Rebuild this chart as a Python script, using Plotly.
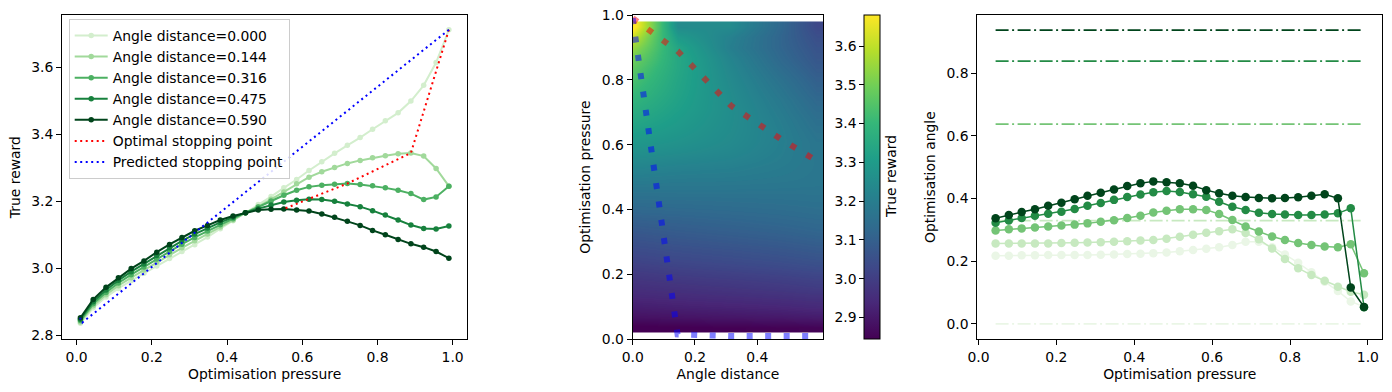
import numpy as np
import plotly.graph_objects as go

# ---------------- data ----------------
pressure = [0.010, 0.044, 0.078, 0.111, 0.145, 0.179, 0.213, 0.247, 0.280, 0.314,
            0.348, 0.382, 0.416, 0.449, 0.483, 0.517, 0.551, 0.585, 0.618, 0.652,
            0.686, 0.720, 0.754, 0.787, 0.821, 0.855, 0.889, 0.923, 0.956, 0.990]

angle_dist = [0.000, 0.144, 0.316, 0.475, 0.590]
legend_labels = ["Angle distance=0.000", "Angle distance=0.144", "Angle distance=0.316",
                 "Angle distance=0.475", "Angle distance=0.590"]

reward_000 = [2.836, 2.882, 2.914, 2.940, 2.963, 2.985, 3.007, 3.029, 3.050, 3.070,
              3.093, 3.118, 3.142, 3.165, 3.190, 3.214, 3.240, 3.265, 3.292, 3.318,
              3.343, 3.367, 3.390, 3.415, 3.440, 3.464, 3.499, 3.546, 3.614, 3.712]
reward_144 = [2.840, 2.888, 2.921, 2.948, 2.972, 2.995, 3.018, 3.040, 3.061, 3.082,
              3.102, 3.123, 3.144, 3.166, 3.184, 3.206, 3.228, 3.252, 3.272, 3.288,
              3.301, 3.313, 3.322, 3.330, 3.336, 3.342, 3.344, 3.335, 3.298, 3.245]
reward_316 = [2.844, 2.894, 2.928, 2.956, 2.981, 3.004, 3.028, 3.050, 3.072, 3.092,
              3.111, 3.130, 3.148, 3.166, 3.183, 3.201, 3.218, 3.233, 3.243, 3.248,
              3.251, 3.253, 3.250, 3.246, 3.240, 3.233, 3.223, 3.205, 3.213, 3.245]
reward_475 = [2.848, 2.900, 2.935, 2.964, 2.990, 3.013, 3.038, 3.061, 3.082, 3.102,
              3.120, 3.137, 3.152, 3.166, 3.178, 3.189, 3.198, 3.203, 3.206, 3.205,
              3.200, 3.192, 3.184, 3.172, 3.159, 3.144, 3.129, 3.119, 3.117, 3.126]
reward_590 = [2.852, 2.907, 2.943, 2.972, 2.999, 3.022, 3.048, 3.071, 3.092, 3.112,
              3.128, 3.144, 3.156, 3.166, 3.174, 3.176, 3.177, 3.174, 3.171, 3.162,
              3.152, 3.140, 3.128, 3.113, 3.100, 3.086, 3.073, 3.063, 3.050, 3.030]

# stopping points (one per angle distance)
opt_pressure = [0.990, 0.889, 0.720, 0.618, 0.551]
opt_reward = [3.712, 3.344, 3.253, 3.206, 3.177]
pred_pressure = [0.990, 0.015, 0.010, 0.010, 0.010]
pred_reward = [3.712, 2.838, 2.844, 2.848, 2.852]

# panel 3: optimisation angle vs pressure (pressure[1:])
angle_000 = [0.218, 0.218, 0.219, 0.219, 0.220, 0.220, 0.220, 0.220, 0.221, 0.222,
             0.223, 0.224, 0.226, 0.228, 0.232, 0.236, 0.240, 0.245, 0.252, 0.262,
             0.262, 0.245, 0.222, 0.195, 0.165, 0.135, 0.105, 0.072, 0.055]
angle_144 = [0.257, 0.257, 0.257, 0.257, 0.257, 0.258, 0.259, 0.260, 0.261, 0.262,
             0.264, 0.266, 0.268, 0.272, 0.278, 0.285, 0.291, 0.296, 0.302, 0.290,
             0.270, 0.241, 0.207, 0.178, 0.156, 0.138, 0.119, 0.103, 0.093]
angle_316 = [0.298, 0.302, 0.305, 0.308, 0.311, 0.314, 0.317, 0.321, 0.326, 0.331,
             0.338, 0.345, 0.356, 0.361, 0.366, 0.366, 0.364, 0.351, 0.332, 0.311,
             0.295, 0.279, 0.268, 0.258, 0.252, 0.247, 0.245, 0.254, 0.162]
angle_475 = [0.323, 0.330, 0.338, 0.345, 0.352, 0.358, 0.367, 0.377, 0.386, 0.396,
             0.405, 0.413, 0.420, 0.424, 0.421, 0.414, 0.406, 0.390, 0.374, 0.364,
             0.355, 0.351, 0.349, 0.348, 0.348, 0.349, 0.353, 0.369, 0.053]
angle_590 = [0.337, 0.348, 0.357, 0.366, 0.377, 0.387, 0.398, 0.409, 0.419, 0.429,
             0.440, 0.449, 0.455, 0.452, 0.449, 0.441, 0.427, 0.417, 0.409, 0.405,
             0.402, 0.401, 0.402, 0.404, 0.409, 0.414, 0.401, 0.116, 0.054]
ref_angle = [0.000, 0.330, 0.638, 0.839, 0.938]

cb_ticks = [2.9, 3.0, 3.1, 3.2, 3.3, 3.4, 3.5, 3.6]
cb_range = [2.844, 3.680]

# ---------------- styling ----------------
W, H = 1392, 392
FONT = "DejaVu Sans"
FS = 13.9
c_left = ["#d3eecd", "#a1d99b", "#4cb062", "#17813d", "#00441b"]
c_right = ["#eaf6e6", "#c7e9c0", "#74c476", "#238b45", "#00441b"]

rewards = [reward_000, reward_144, reward_316, reward_475, reward_590]
angles = [angle_000, angle_144, angle_316, angle_475, angle_590]
p3 = pressure[1:]


def fx(px):
    return px / W


def fy(py):
    return 1 - py / H


fig = go.Figure()

# panel 1
for i in range(5):
    fig.add_trace(go.Scatter(
        x=pressure, y=rewards[i], mode="lines+markers", name=legend_labels[i],
        line=dict(color=c_left[i], width=2), marker=dict(color=c_left[i], size=5.5),
        xaxis="x", yaxis="y", legend="legend"))
fig.add_trace(go.Scatter(
    x=opt_pressure, y=opt_reward, mode="lines", name="Optimal stopping point",
    line=dict(color="red", width=2, dash="2px,3.5px"), xaxis="x", yaxis="y"))
fig.add_trace(go.Scatter(
    x=pred_pressure, y=pred_reward, mode="lines", name="Predicted stopping point",
    line=dict(color="blue", width=2, dash="2px,3.5px"), xaxis="x", yaxis="y"))

# panel 2 heatmap
z = [[rewards[j][k] for j in range(5)] for k in range(len(pressure))]
heat_y = np.linspace(0.02, 0.98, len(pressure) + 1)
fig.add_trace(go.Heatmap(
    x=angle_dist, y=heat_y, z=z, colorscale="Viridis", zmin=cb_range[0], zmax=cb_range[1],
    zsmooth="best", xaxis="x2", yaxis="y2", showscale=True, hoverinfo="skip",
    colorbar=dict(x=fx(864.3), xanchor="left", xref="paper", y=fy(15), yanchor="top",
                  len=(339.3 - 15) / H, lenmode="fraction", thickness=16.4,
                  thicknessmode="pixels", outlinewidth=1, outlinecolor="black",
                  showticklabels=False, ticks="", xpad=0, ypad=0)))
fig.add_trace(go.Scatter(
    x=angle_dist, y=opt_pressure, mode="lines", showlegend=False, opacity=0.5,
    line=dict(color="red", width=6, dash="6px,12.5px"), xaxis="x2", yaxis="y2"))
fig.add_trace(go.Scatter(
    x=angle_dist, y=pred_pressure, mode="lines", showlegend=False, opacity=0.5,
    line=dict(color="blue", width=6, dash="6px,12.5px"), xaxis="x2", yaxis="y2"))
# dummy trace for colorbar tick axis
fig.add_trace(go.Scatter(x=[None], y=[None], xaxis="x2", yaxis="y4", showlegend=False,
                         hoverinfo="skip"))

# panel 3
for i in range(5):
    fig.add_trace(go.Scatter(
        x=p3, y=angles[i], mode="lines+markers", showlegend=False,
        line=dict(color=c_right[i], width=1.5), marker=dict(color=c_right[i], size=8.5),
        xaxis="x3", yaxis="y3"))
    fig.add_trace(go.Scatter(
        x=[p3[0], p3[-1]], y=[ref_angle[i], ref_angle[i]], mode="lines", showlegend=False,
        line=dict(color=c_right[i], width=1.8, dash="13px,3.5px,2px,3.5px"),
        xaxis="x3", yaxis="y3"))

tfont = dict(family=FONT, size=FS, color="black")
axis_common = dict(showline=True, mirror=True, linecolor="black", linewidth=1,
                   ticks="outside", ticklen=5, tickwidth=1, tickcolor="black",
                   showgrid=False, zeroline=False, automargin=False,
                   tickfont=tfont, tickformat=".1f")

ydom = [fy(339.3), fy(15)]
fig.update_layout(
    width=W, height=H, autosize=False,
    margin=dict(l=0, r=0, t=0, b=0),
    paper_bgcolor="white", plot_bgcolor="white",
    font=dict(family=FONT, size=FS, color="black"),
    xaxis=dict(axis_common, domain=[fx(62), fx(467.3)], range=[-0.039, 1.039],
               tickvals=[0, 0.2, 0.4, 0.6, 0.8, 1.0], anchor="y",
               title=dict(text="Optimisation pressure", standoff=5, font=tfont)),
    yaxis=dict(axis_common, domain=ydom, range=[2.788, 3.756],
               tickvals=[2.8, 3.0, 3.2, 3.4, 3.6], anchor="x",
               title=dict(text="True reward", standoff=7, font=tfont)),
    xaxis2=dict(axis_common, domain=[fx(632.7), fx(823.3)], range=[0, 0.612],
                tickvals=[0, 0.2, 0.4], anchor="y2",
                title=dict(text="Angle distance", standoff=5, font=tfont)),
    yaxis2=dict(axis_common, domain=ydom, range=[0, 1],
                tickvals=[0, 0.2, 0.4, 0.6, 0.8, 1.0], anchor="x2",
                title=dict(text="Optimisation pressure", standoff=7, font=tfont)),
    yaxis4=dict(axis_common, overlaying="y2", anchor="free", position=fx(864.3),
                side="left", range=cb_range, tickvals=cb_ticks, showline=False,
                mirror=False),
    xaxis3=dict(axis_common, domain=[fx(977.3), fx(1382.3)], range=[-0.003, 1.037],
                tickvals=[0, 0.2, 0.4, 0.6, 0.8, 1.0], anchor="y3",
                title=dict(text="Optimisation pressure", standoff=5, font=tfont)),
    yaxis3=dict(axis_common, domain=ydom, range=[-0.049, 0.986],
                tickvals=[0, 0.2, 0.4, 0.6, 0.8], anchor="x3",
                title=dict(text="Optimisation angle", standoff=7, font=tfont)),
    legend=dict(x=fx(68.7), y=fy(19), xanchor="left", yanchor="top",
                bgcolor="rgba(255,255,255,0.85)", bordercolor="#cccccc", borderwidth=1,
                font=tfont, itemwidth=33, tracegroupgap=0),
    annotations=[dict(text="True reward", x=fx(891), y=fy(177), xref="paper", yref="paper",
                      textangle=-90, showarrow=False, xanchor="center", yanchor="middle",
                      font=tfont)],
)

fig.write_html("out.html", config={"displayModeBar": False},
               post_script="document.body.style.margin='0';document.body.style.overflow='hidden';")
